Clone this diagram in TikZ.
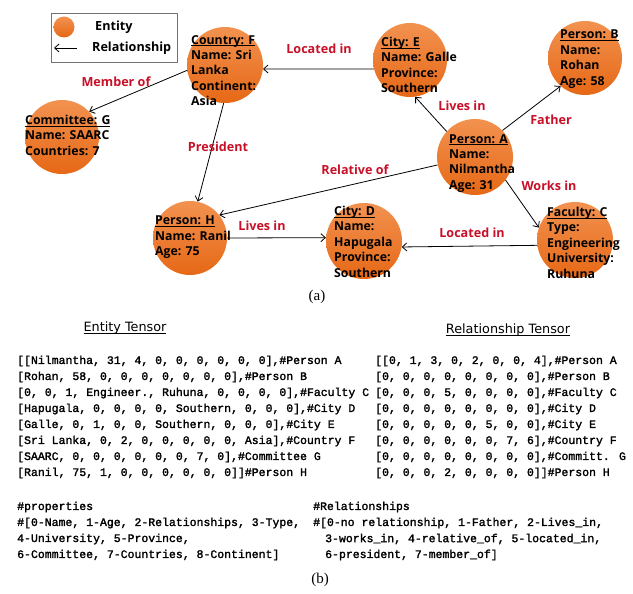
\documentclass[tikz,border=0pt]{standalone}
\usepackage{fontspec}
\setmainfont{Liberation Serif}
\newfontfamily\nodefont{Open Sans}
\newfontfamily\titlefont{DejaVu Sans}
\newfontfamily\monofont[FakeBold=1.8]{Liberation Mono}
\usetikzlibrary{arrows.meta}
\definecolor{orTop}{RGB}{242,146,80}
\definecolor{orBot}{RGB}{230,104,22}
\definecolor{lblred}{RGB}{200,16,40}
\newcommand{\myul}[1]{\setbox0\hbox{#1}\rlap{\rule[-1.8pt]{\wd0}{0.8pt}}\box0}
\begin{document}
\begin{tikzpicture}[x=1pt,y=-1pt,
  ent/.style={circle, minimum size=#1, inner sep=0pt, top color=orTop, bottom color=orBot},
  etxt/.style={anchor=north west, align=left, inner sep=0pt, font=\nodefont\bfseries\fontsize{12.3}{15.4}\selectfont},
  ltxt/.style={anchor=west, inner sep=0pt, font=\nodefont\bfseries\fontsize{12.6}{14}\selectfont},
  rel/.style={-{Straight Barb[length=4.5pt,width=8pt]}, black, line width=0.8pt},
  lbl/.style={text=lblred, inner sep=0pt, font=\nodefont\bfseries\fontsize{12.6}{14}\selectfont},
  mono/.style={anchor=west, inner sep=0pt, font=\monofont\fontsize{11.5}{14}\selectfont},
  ttl/.style={inner sep=0pt, font=\titlefont\fontsize{12.8}{14}\selectfont},
  captxt/.style={inner sep=0pt, font=\fontsize{15}{17}\selectfont}]
\useasboundingbox (0,0) rectangle (633,594);
\fill[white] (0,0) rectangle (633,594);

% legend
\node[draw=black!55, line width=0.8pt, minimum width=126pt, minimum height=49pt, inner sep=0pt] (leg) at (114,37.5) {};
\node[ent=21pt] (legE) at (64,27) {};
\node[ltxt] (legEt) at (95,27) {Entity};
\coordinate (legA1) at (77,48);
\coordinate (legA2) at (54,48);
\draw[rel] (legA1) -- (legA2);
\node[ltxt] (legRt) at (92,48) {Relationship};

% entities
\node[ent=76pt] (F) at (225,65) {};
\node[ent=74pt] (E) at (410,60) {};
\node[ent=74pt] (B) at (585,58) {};
\node[ent=74pt] (G) at (62,137) {};
\node[ent=76pt] (A) at (475,157) {};
\node[ent=74pt] (H) at (190,238) {};
\node[ent=76pt] (D) at (364,241) {};
\node[ent=76pt] (C) at (575,240) {};

\node[etxt] (Ft) at (191,35) {\myul{Country: F}\\Name: Sri\\Lanka\\Continent:\\Asia};
\node[etxt] (Et) at (381,37) {\myul{City: E}\\Name: Galle\\Province:\\Southern};
\node[etxt] (Bt) at (560,30) {\myul{Person: B}\\Name:\\Rohan\\Age: 58};
\node[etxt] (Gt) at (25,115) {\myul{Committee: G}\\Name: SAARC\\Countries: 7};
\node[etxt] (At) at (449,134) {\myul{Person: A}\\Name:\\Nilmantha\\Age: 31};
\node[etxt] (Ht) at (155,216) {\myul{Person: H}\\Name: Ranil\\Age: 75};
\node[etxt] (Dt) at (334,206) {\myul{City: D}\\Name:\\Hapugala\\Province:\\Southern};
\node[etxt] (Ct) at (547,207) {\myul{Faculty: C}\\Type:\\Engineering\\University:\\Ruhuna};

% relationships
\draw[rel] (E.194) -- (F.354);
\draw[rel] (A.138) -- (E.278);
\draw[rel] (A.44) -- (B.229);
\draw[rel] (F.188) -- (G.43);
\draw[rel] (F.268) -- (H.78);
\draw[rel] (A.192) -- (H.38);
\draw[rel] (H.0) -- (D.175);
\draw[rel] (A.323) -- (C.161);
\draw[rel] (C.188) -- (D.351);

\node[lbl] (l1) at (319,49) {Located in};
\node[lbl] (l2) at (462,106) {Lives in};
\node[lbl] (l3) at (551,120) {Father};
\node[lbl] (l4) at (116,82) {Member of};
\node[lbl] (l5) at (218,147) {President};
\node[lbl] (l6) at (355,170) {Relative of};
\node[lbl] (l7) at (262,226) {Lives in};
\node[lbl] (l8) at (549,186) {Works in};
\node[lbl] (l9) at (472,233) {Located in};

\node[captxt] (capa) at (317,297) {(a)};

% tensors
\node[ttl] (tE) at (125,328) {\myul{Entity Tensor}};
\node[ttl] (tR) at (508,330) {\myul{Relationship Tensor}};

\node[mono] (e1) at (17,361) {[[Nilmantha, 31, 4, 0, 0, 0, 0, 0, 0],\#Person A};
\node[mono] (e2) at (17,377) {[Rohan, 58, 0, 0, 0, 0, 0, 0, 0],\#Person B};
\node[mono] (e3) at (17,393) {[0, 0, 1, Engineer., Ruhuna, 0, 0, 0, 0],\#Faculty C};
\node[mono] (e4) at (17,409) {[Hapugala, 0, 0, 0, 0, Southern, 0, 0, 0],\#City D};
\node[mono] (e5) at (17,425) {[Galle, 0, 1, 0, 0, Southern, 0, 0, 0],\#City E};
\node[mono] (e6) at (17,441) {[Sri Lanka, 0, 2, 0, 0, 0, 0, 0, Asia],\#Country F};
\node[mono] (e7) at (17,457) {[SAARC, 0, 0, 0, 0, 0, 0, 7, 0],\#Committee G};
\node[mono] (e8) at (17,473) {[Ranil, 75, 1, 0, 0, 0, 0, 0, 0]]\#Person H};

\node[mono] (r1) at (375,361) {[[0, 1, 3, 0, 2, 0, 0, 4],\#Person A};
\node[mono] (r2) at (375,377) {[0, 0, 0, 0, 0, 0, 0, 0],\#Person B};
\node[mono] (r3) at (375,393) {[0, 0, 0, 5, 0, 0, 0, 0],\#Faculty C};
\node[mono] (r4) at (375,409) {[0, 0, 0, 0, 0, 0, 0, 0],\#City D};
\node[mono] (r5) at (375,425) {[0, 0, 0, 0, 0, 5, 0, 0],\#City E};
\node[mono] (r6) at (375,441) {[0, 0, 0, 0, 0, 0, 7, 6],\#Country F};
\node[mono] (r7) at (375,457) {[0, 0, 0, 0, 0, 0, 0, 0],\#Committ. G};
\node[mono] (r8) at (375,473) {[0, 0, 0, 2, 0, 0, 0, 0]]\#Person H};

\node[mono] (p1) at (17,507) {\#properties};
\node[mono] (p2) at (17,523) {\#[0-Name, 1-Age, 2-Relationships, 3-Type,};
\node[mono] (p3) at (17,539) {4-University, 5-Province,};
\node[mono] (p4) at (17,555) {6-Committee, 7-Countries, 8-Continent]};

\node[mono] (q1) at (313,507) {\#Relationships};
\node[mono] (q2) at (313,523) {\#[0-no relationship, 1-Father, 2-Lives\_in,};
\node[mono] (q3) at (325,539) {3-works\_in, 4-relative\_of, 5-located\_in,};
\node[mono] (q4) at (325,555) {6-president, 7-member\_of]};

\node[captxt] (capb) at (320,580) {(b)};
\end{tikzpicture}
\end{document}
